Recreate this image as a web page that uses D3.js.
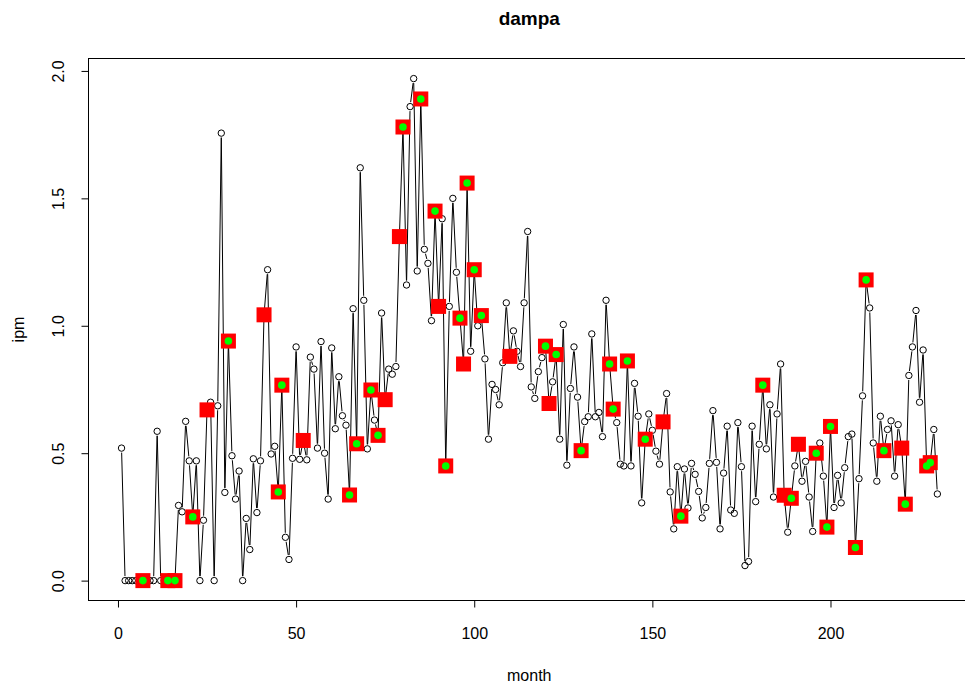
<!DOCTYPE html>
<html lang="en">
<head>
  <meta http-equiv="Content-Type" content="text/html; charset=utf-8">
  <title>dampa</title>
  <style type="text/css">
    body  { margin: 0; background: #fff; }
    svg   { display: block; font-family: "Liberation Sans", Arial, sans-serif; }
    .tick text { font-size: 16px; fill: #000; }
    .tick line { stroke: #000; }
  </style>
</head>
<body>
<script src="https://d3js.org/d3.v7.min.js"></script>
<script>
  //----------------------------------------------------------------------------
  // monthly ipm values, month 1..230
  var ipm = [
    0.52, 0, 0, 0, 0, 0, 0, 0, 0, 0,
    0.586, 0, 0, 0, 0, 0, 0.295, 0.27, 0.625, 0.47,
    0.25, 0.47, 0, 0.237, 0.67, 0.70, 0, 0.686, 1.756, 0.346,
    0.94, 0.49, 0.32, 0.43, 0, 0.244, 0.122, 0.478, 0.267, 0.47,
    1.043, 1.22, 0.497, 0.527, 0.348, 0.767, 0.17, 0.083, 0.48, 0.917,
    0.476, 0.55, 0.474, 0.877, 0.83, 0.52, 0.938, 0.50, 0.32, 0.913,
    0.596, 0.80, 0.647, 0.61, 0.336, 1.067, 0.537, 1.62, 1.10, 0.517,
    0.748, 0.63, 0.57, 1.05, 0.71, 0.83, 0.81, 0.84, 1.35, 1.78,
    1.16, 1.86, 1.97, 1.215, 1.89, 1.30, 1.245, 1.02, 1.45, 1.076,
    1.42, 0.45, 1.076, 1.50, 1.21, 1.03, 0.85, 1.56, 0.90, 1.22,
    1.00, 1.04, 0.87, 0.555, 0.77, 0.75, 0.69, 0.855, 1.09, 0.88,
    0.98, 0.90, 0.84, 1.09, 1.37, 0.76, 0.715, 0.82, 0.875, 0.92,
    0.695, 0.78, 0.887, 0.555, 1.005, 0.453, 0.754, 0.917, 0.72, 0.51,
    0.624, 0.643, 0.968, 0.643, 0.66, 0.565, 1.10, 0.85, 0.673, 0.62,
    0.457, 0.45, 0.862, 0.45, 0.774, 0.645, 0.305, 0.555, 0.654, 0.59,
    0.508, 0.457, 0.623, 0.734, 0.348, 0.203, 0.447, 0.253, 0.438, 0.285,
    0.46, 0.417, 0.35, 0.246, 0.287, 0.46, 0.667, 0.464, 0.203, 0.422,
    0.606, 0.277, 0.264, 0.62, 0.447, 0.059, 0.075, 0.606, 0.31, 0.535,
    0.767, 0.517, 0.69, 0.328, 0.654, 0.85, 0.335, 0.19, 0.323, 0.45,
    0.535, 0.39, 0.468, 0.328, 0.193, 0.50, 0.54, 0.41, 0.21, 0.605,
    0.287, 0.413, 0.305, 0.443, 0.565, 0.575, 0.13, 0.40, 0.725, 1.18,
    1.07, 0.54, 0.39, 0.645, 0.51, 0.593, 0.627, 0.41, 0.612, 0.52,
    0.30, 0.805, 0.917, 1.06, 0.70, 0.905, 0.45, 0.463, 0.593, 0.34
  ];

  // months flagged with a red square, and those also with a green dot
  var redMonths = [7, 14, 16, 21, 25, 31, 41, 45, 46, 52, 65, 67, 71, 73, 75,
    79, 80, 85, 89, 90, 92, 96, 97, 98, 100, 102, 110, 120, 121, 123, 130,
    138, 139, 143, 148, 153, 158, 181, 187, 189, 191, 196, 199, 200, 207,
    210, 215, 220, 221, 227, 228];
  var greenMonths = [7, 14, 16, 21, 31, 45, 46, 65, 67, 71, 73, 80, 85, 89,
    92, 96, 98, 100, 102, 120, 123, 130, 138, 139, 143, 148, 158, 181, 189,
    196, 199, 200, 207, 210, 215, 221, 227, 228];

  var xTicks = [0, 50, 100, 150, 200];
  var yTicks = [0, 0.5, 1, 1.5, 2];

  var width = 965;
  var height = 684;
  var box = { left: 88.5, right: 970, top: 58.5, bottom: 600.5 };

  var data = ipm.map(function(v, i) { return { month: i + 1, ipm: v }; });
  var byMonth = function(m) { return data[m - 1]; };

  // R style axis ranges: data extent padded by 4% each side
  function rRange(ext) {
    var pad = (ext[1] - ext[0]) * 0.04;
    return [ext[0] - pad, ext[1] + pad];
  }

  var x = d3.scaleLinear()
    .domain(rRange(d3.extent(data, function(d) { return d.month; })))
    .range([box.left + 0.4, box.right]);

  var y = d3.scaleLinear()
    .domain(rRange([0, d3.max(ipm)]))
    .range([box.bottom + 0.2, box.top]);

  var svg = d3.select("body")
    .append("svg")
      .attr("width", width)
      .attr("height", height);

  // type = "b": segments stop short of each point
  var gap = 4.5;
  var segs = [];
  for (var i = 1; i < data.length; i++) {
    var x0 = x(data[i - 1].month), y0 = y(data[i - 1].ipm);
    var x1 = x(data[i].month), y1 = y(data[i].ipm);
    var dx = x1 - x0, dy = y1 - y0;
    var len = Math.sqrt(dx * dx + dy * dy);
    if (len <= 2 * gap) continue;
    var ux = dx / len, uy = dy / len;
    segs.push([x0 + ux * gap, y0 + uy * gap, x1 - ux * gap, y1 - uy * gap]);
  }

  svg.append("g").selectAll("line")
    .data(segs)
    .enter().append("line")
      .attr("x1", function(d) { return d[0]; })
      .attr("y1", function(d) { return d[1]; })
      .attr("x2", function(d) { return d[2]; })
      .attr("y2", function(d) { return d[3]; })
      .attr("stroke", "#000")
      .attr("stroke-width", 1);

  svg.append("g").selectAll("circle")
    .data(data)
    .enter().append("circle")
      .attr("cx", function(d) { return x(d.month); })
      .attr("cy", function(d) { return y(d.ipm); })
      .attr("r", 3.2)
      .attr("fill", "none")
      .attr("stroke", "#000")
      .attr("stroke-width", 1);

  var sq = 15;
  svg.append("g").selectAll("rect")
    .data(redMonths.map(byMonth))
    .enter().append("rect")
      .attr("x", function(d) { return x(d.month) - sq / 2; })
      .attr("y", function(d) { return y(d.ipm) - sq / 2; })
      .attr("width", sq)
      .attr("height", sq)
      .attr("fill", "#ff0000");

  svg.append("g").selectAll("circle")
    .data(greenMonths.map(byMonth))
    .enter().append("circle")
      .attr("cx", function(d) { return x(d.month); })
      .attr("cy", function(d) { return y(d.ipm); })
      .attr("r", 3.8)
      .attr("fill", "#00ff00");

  // box
  svg.append("rect")
    .attr("x", box.left)
    .attr("y", box.top)
    .attr("width", box.right - box.left)
    .attr("height", box.bottom - box.top)
    .attr("fill", "none")
    .attr("stroke", "#000")
    .attr("stroke-width", 1);

  // axes
  var xAxis = svg.append("g")
    .attr("transform", "translate(0," + box.bottom + ")")
    .call(d3.axisBottom(x).tickValues(xTicks).tickSize(7).tickPadding(20)
      .tickFormat(d3.format("d")));
  xAxis.select(".domain").remove();

  var yAxis = svg.append("g")
    .attr("transform", "translate(" + box.left + ",0)")
    .call(d3.axisLeft(y).tickValues(yTicks).tickSize(7)
      .tickFormat(d3.format(".1f")));
  yAxis.select(".domain").remove();
  yAxis.selectAll(".tick text")
    .attr("x", null)
    .attr("dy", null)
    .attr("text-anchor", "middle")
    .attr("transform", "translate(-25,0) rotate(-90)");

  // labels
  svg.append("text")
    .attr("x", (box.left + box.right) / 2)
    .attr("y", 25)
    .attr("text-anchor", "middle")
    .attr("font-size", "19px")
    .attr("font-weight", "bold")
    .text("dampa");

  svg.append("text")
    .attr("x", (box.left + box.right) / 2)
    .attr("y", 681)
    .attr("text-anchor", "middle")
    .attr("font-size", "16px")
    .text("month");

  svg.append("text")
    .attr("transform", "translate(24," + ((box.top + box.bottom) / 2) + ") rotate(-90)")
    .attr("text-anchor", "middle")
    .attr("font-size", "16px")
    .text("ipm");

  //----------------------------------------------------------------------------
</script>
</body>
</html>
